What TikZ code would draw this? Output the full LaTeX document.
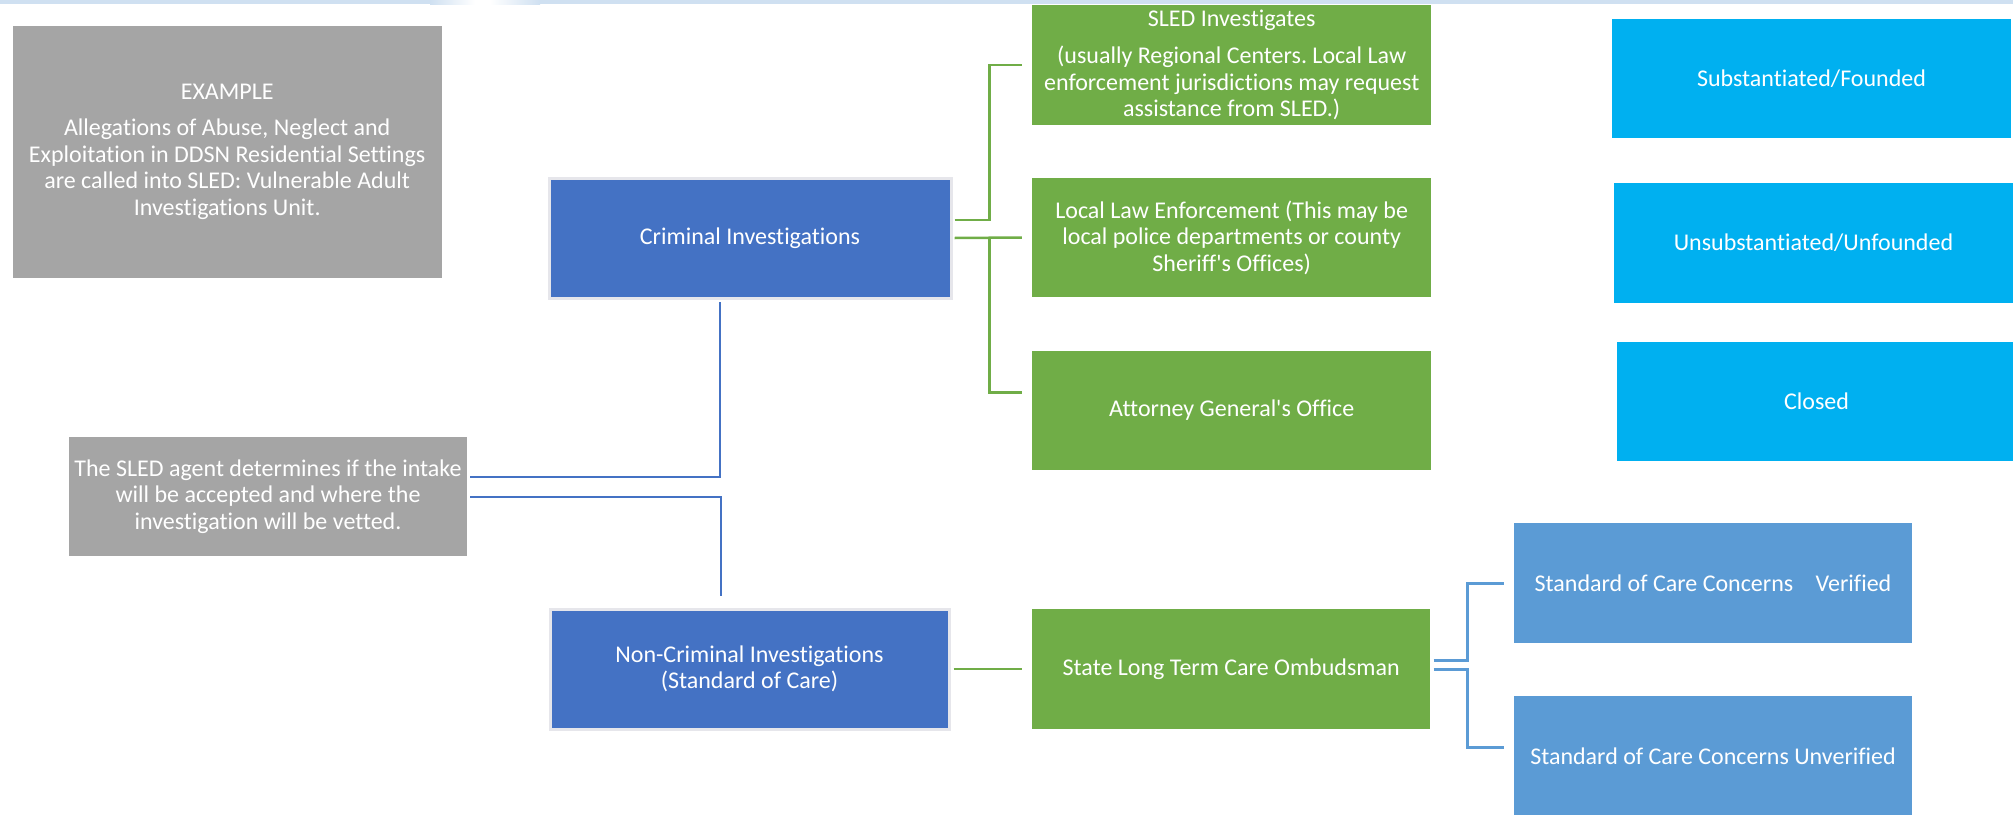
\documentclass[tikz,border=0pt]{standalone}
\usepackage{fontspec}
\setmainfont{Carlito}[Ligatures=NoCommon]
\frenchspacing
\definecolor{grayb}{HTML}{A5A5A5}
\definecolor{darkb}{HTML}{4472C4}
\definecolor{greenb}{HTML}{70AD47}
\definecolor{cyanb}{HTML}{00B0F0}
\definecolor{lightb}{HTML}{5B9BD5}
\definecolor{stripc}{HTML}{CFE0F1}
\definecolor{edgec}{HTML}{E6E6EB}
\begin{document}
\begin{tikzpicture}[x=1pt,y=-1pt,
  box/.style={rectangle, inner sep=0pt, text=white, align=center,
    font=\fontsize{24}{26.5}\selectfont},
  graybox/.style={box, fill=grayb},
  darkbox/.style={box, fill=darkb, draw=edgec, line width=3pt},
  greenbox/.style={box, fill=greenb},
  cyanbox/.style={box, fill=cyanb},
  lightbox/.style={box, fill=lightb},
  gline/.style={draw=greenb, line width=2.5pt},
  dline/.style={draw=darkb, line width=2pt},
  lline/.style={draw=lightb, line width=3pt}]
\useasboundingbox (0,0) rectangle (2013,814);
% top strip
\fill[stripc] (0,0) rectangle (2013,4);
\shade[left color=stripc, right color=white] (430,0) rectangle (475,4);
\fill[white] (475,0) rectangle (490,4);
\shade[left color=white, right color=stripc] (490,0) rectangle (540,4);

% left column
\node[graybox, minimum width=429pt, minimum height=252pt] (ex) at (227.2,151.7)
  {EXAMPLE\\[10pt]Allegations of Abuse, Neglect and\\Exploitation in DDSN Residential Settings\\are called into SLED: Vulnerable Adult\\Investigations Unit.};
\node[graybox, minimum width=398pt, minimum height=119pt] (agent) at (268,496.5)
  {The SLED agent determines if the intake\\will be accepted and where the\\investigation will be vetted.};

% blue column
\node[darkbox, minimum width=402pt, minimum height=120pt] (crim) at (750,238)
  {Criminal Investigations};
\node[darkbox, minimum width=399pt, minimum height=120pt] (noncrim) at (749.5,669)
  {Non-Criminal Investigations\\(Standard of Care)};

% green column
\node[greenbox, minimum width=399.5pt, minimum height=120pt] (sled) at (1231.7,65)
  {SLED Investigates\\[11pt](usually Regional Centers. Local Law\\enforcement jurisdictions may request\\assistance from SLED.)};
\node[greenbox, minimum width=399.5pt, minimum height=119pt] (lle) at (1231.7,237.5)
  {Local Law Enforcement (This may be\\local police departments or county\\Sheriff\textquotesingle s Offices)};
\node[greenbox, minimum width=399.5pt, minimum height=119pt] (ag) at (1231.7,410.5)
  {Attorney General\textquotesingle s Office};
\node[greenbox, minimum width=398.5pt, minimum height=120pt] (ltc) at (1231.2,669)
  {State Long Term Care Ombudsman};

% light blue
\node[lightbox, minimum width=397.5pt, minimum height=120pt] (ver) at (1713,583)
  {Standard of Care Concerns\hspace{17pt} Verified};
\node[lightbox, minimum width=397.5pt, minimum height=120pt] (unv) at (1713,756)
  {Standard of Care Concerns Unverified};

% cyan
\node[cyanbox, minimum width=399pt, minimum height=119pt] (sub) at (1811.5,78.5)
  {Substantiated/Founded};
\node[cyanbox, minimum width=399pt, minimum height=120pt] (uns) at (1813.5,243)
  {Unsubstantiated/Unfounded};
\node[cyanbox, minimum width=399pt, minimum height=119pt] (clo) at (1816.5,401.5)
  {Closed};

% connectors
\draw[dline] ([xshift=3pt,yshift=20pt]agent.east) -| ([xshift=-30pt,yshift=-2pt]crim.south);
\draw[dline] ([xshift=3pt]agent.east) -| ([xshift=-28.5pt,yshift=12pt]noncrim.north);

\draw[gline] ([xshift=2pt,yshift=18pt]crim.east) -- ++(35,0) |- ([xshift=-10pt]sled.west);
\draw[gline] ([xshift=2pt]crim.east) -- ([xshift=-10pt]lle.west);
\draw[gline] ([xshift=37pt]crim.east) |- ([xshift=-10pt,yshift=18pt]ag.west);
\draw[gline] ([xshift=3pt]noncrim.east) -- ([xshift=-10pt]ltc.west);

\draw[lline] ([xshift=3pt,yshift=9pt]ltc.east) -- ++(34,0) |- ([xshift=-10pt]ver.west);
\draw[lline] ([xshift=3pt]ltc.east) -- ++(34,0) |- ([xshift=-10pt,yshift=9pt]unv.west);
\end{tikzpicture}
\end{document}
